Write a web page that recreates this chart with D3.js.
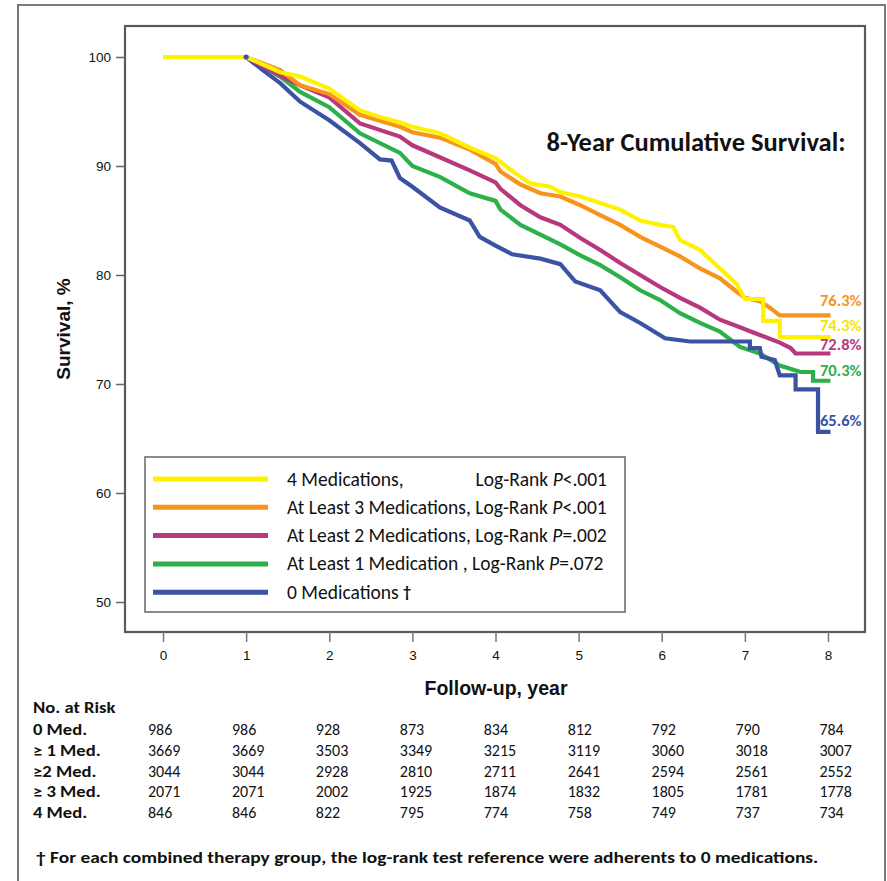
<!DOCTYPE html>
<html>
<head>
<meta charset="utf-8">
<script src="https://cdn.jsdelivr.net/npm/d3@7"></script>
<style>
  html, body { margin: 0; padding: 0; background: #fff; }
  svg { display: block; }
</style>
</head>
<body>
<svg id="chart" width="887" height="881"></svg>
<script>
// ---------- DATA ----------
const xTicks = [0, 1, 2, 3, 4, 5, 6, 7, 8];
const yTicks = [50, 60, 70, 80, 90, 100];

const seriesNames = ["0 Medications", "At Least 1 Medication", "At Least 2 Medications", "At Least 3 Medications", "4 Medications"];
const seriesColors = ["#3A53A4", "#2BB04A", "#B8387E", "#F7941D", "#FFF200"];
const labelColors  = ["#3A53A4", "#2BB04A", "#B8387E", "#F7941D", "#F2E600"];

// [year, survival %]
const med0 = [[0,100],[1,100],[1.2,98.8],[1.41,97.6],[1.65,95.9],[2.0,94.2],[2.37,92.1],[2.61,90.6],[2.75,90.5],[2.85,88.9],[3.0,88.1],[3.33,86.2],[3.69,85.0],[3.81,83.5],[4.0,82.7],[4.2,81.9],[4.54,81.5],[4.78,81.0],[4.96,79.4],[5.26,78.6],[5.5,76.6],[5.74,75.6],[6.04,74.2],[6.34,73.9],[7.06,73.9],[7.06,73.3],[7.18,73.3],[7.2,72.5],[7.36,72.2],[7.42,70.8],[7.61,70.8],[7.61,69.5],[7.88,69.5],[7.88,65.6],[8.03,65.6]];
const med1 = [[0,100],[1,100],[1.41,98.2],[1.65,96.8],[2.0,95.4],[2.37,93.0],[2.85,91.2],[3.0,90.0],[3.33,89.0],[3.69,87.5],[4.0,86.8],[4.06,86.0],[4.3,84.6],[4.54,83.7],[4.78,82.8],[5.02,81.8],[5.26,80.9],[5.5,79.8],[5.74,78.6],[5.98,77.7],[6.22,76.5],[6.46,75.6],[6.7,74.8],[6.94,73.4],[7.18,72.8],[7.42,71.7],[7.67,71.1],[7.82,71.1],[7.82,70.3],[8.03,70.3]];
const med2 = [[0,100],[1,100],[1.41,98.3],[1.65,97.4],[2.0,96.3],[2.37,93.9],[2.85,92.7],[3.0,91.9],[3.33,90.8],[3.69,89.6],[4.0,88.5],[4.06,87.9],[4.3,86.4],[4.54,85.3],[4.78,84.6],[5.02,83.4],[5.26,82.3],[5.5,81.1],[5.74,80.0],[5.98,78.9],[6.22,77.9],[6.46,77.0],[6.7,75.9],[6.94,75.2],[7.18,74.5],[7.42,73.8],[7.55,73.3],[7.61,72.8],[8.03,72.8]];
const med3 = [[0,100],[1,100],[1.41,98.8],[1.65,97.4],[2.0,96.6],[2.37,94.7],[2.85,93.6],[3.0,93.1],[3.33,92.6],[3.69,91.5],[4.0,90.2],[4.06,89.5],[4.3,88.3],[4.54,87.5],[4.78,87.2],[5.02,86.4],[5.26,85.5],[5.5,84.6],[5.74,83.5],[5.98,82.6],[6.22,81.7],[6.46,80.6],[6.7,79.7],[6.88,78.6],[7.0,77.9],[7.18,77.6],[7.3,77.0],[7.42,76.3],[8.03,76.3]];
const med4 = [[0,100],[1,100],[1.41,98.6],[1.65,98.2],[2.0,97.1],[2.37,95.1],[2.61,94.5],[2.85,94.0],[3.0,93.6],[3.33,93.0],[3.69,91.7],[4.0,90.7],[4.3,89.0],[4.42,88.4],[4.66,88.1],[4.78,87.6],[5.02,87.2],[5.26,86.6],[5.5,86.0],[5.74,85.0],[5.98,84.6],[6.14,84.4],[6.22,83.2],[6.46,82.3],[6.7,80.6],[6.9,79.2],[7.0,77.8],[7.22,77.8],[7.22,75.8],[7.42,75.8],[7.42,74.3],[8.03,74.3]];
const seriesData = [med0, med1, med2, med3, med4];

const finalLabels = ["65.6%", "70.3%", "72.8%", "76.3%", "74.3%"];

const legendLeft  = ["0 Medications \u2020", "At Least 1 Medication , Log-Rank ", "At Least 2 Medications, Log-Rank ", "At Least 3 Medications, Log-Rank ", "4 Medications,"];
const legendP     = ["", "=.072", "=.002", "<.001", "<.001"];

const riskRowLabels = ["0 Med.", "\u2265 1 Med.", "\u22652 Med.", "\u2265 3 Med.", "4 Med."];
const risk0 = [986, 986, 928, 873, 834, 812, 792, 790, 784];
const risk1 = [3669, 3669, 3503, 3349, 3215, 3119, 3060, 3018, 3007];
const risk2 = [3044, 3044, 2928, 2810, 2711, 2641, 2594, 2561, 2552];
const risk3 = [2071, 2071, 2002, 1925, 1874, 1832, 1805, 1781, 1778];
const risk4 = [846, 846, 822, 795, 774, 758, 749, 737, 734];
const riskRows = [risk0, risk1, risk2, risk3, risk4];

// ---------- LAYOUT ----------
const svg = d3.select("#chart");
const frame = {x0: 125, y0: 26, x1: 865, y1: 632};
const x = d3.scaleLinear().domain([0, 8]).range([163, 828]);
const y = d3.scaleLinear().domain([50, 100]).range([602, 57]);
const calibri = "Carlito, Lato, 'Open Sans', sans-serif";
const arial = "'Liberation Sans', Arial, Helvetica, sans-serif";

// helper: horizontally stretched text
function wideText(px, py, sx) {
  return svg.append("g").attr("transform", `translate(${px},${py}) scale(${sx},1)`)
    .append("text").attr("x", 0).attr("y", 0);
}

// outer border
svg.append("rect").attr("x", 18).attr("y", 5).attr("width", 867).attr("height", 900)
  .attr("fill", "none").attr("stroke", "#7a7a7a").attr("stroke-width", 2);

// plot frame
svg.append("rect").attr("x", frame.x0).attr("y", frame.y0)
  .attr("width", frame.x1 - frame.x0).attr("height", frame.y1 - frame.y0)
  .attr("fill", "#fff").attr("stroke", "#5a5a5a").attr("stroke-width", 2.2);

// y axis
const yAxis = svg.append("g").attr("transform", `translate(${frame.x0},0)`)
  .call(d3.axisLeft(y).tickValues(yTicks).tickSize(9).tickPadding(5).tickFormat(d3.format("d")));
yAxis.select(".domain").remove();
yAxis.selectAll("line").attr("stroke", "#666").attr("stroke-width", 1.5);
yAxis.selectAll("text").attr("font-family", arial).attr("font-size", 13.5).attr("fill", "#111");

// x axis
const xAxis = svg.append("g").attr("transform", `translate(0,${frame.y1})`)
  .call(d3.axisBottom(x).tickValues(xTicks).tickSize(10).tickPadding(8).tickFormat(d3.format("d")));
xAxis.select(".domain").remove();
xAxis.selectAll("line").attr("stroke", "#777").attr("stroke-width", 1.5);
xAxis.selectAll("text").attr("font-family", arial).attr("font-size", 13.5).attr("fill", "#111");

// axis titles
svg.append("text").attr("transform", "translate(70,329) rotate(-90)")
  .attr("text-anchor", "middle").attr("font-family", arial).attr("font-weight", "bold")
  .attr("font-size", 19).attr("fill", "#111").text("Survival, %");
svg.append("text").attr("x", 496).attr("y", 695)
  .attr("text-anchor", "middle").attr("font-family", arial).attr("font-weight", "bold")
  .attr("font-size", 19.5).attr("fill", "#111").text("Follow-up, year");

// curves
const line = d3.line().x(d => x(d[0])).y(d => y(d[1])).curve(d3.curveLinear);
const drawOrder = [1, 0, 2, 3, 4];
drawOrder.forEach(i => {
  svg.append("path").datum(seriesData[i])
    .attr("fill", "none").attr("stroke", seriesColors[i])
    .attr("stroke-width", 4.2).attr("stroke-linejoin", "miter")
    .attr("d", line);
});
svg.append("circle").attr("cx", x(1)).attr("cy", y(100)).attr("r", 2.6).attr("fill", seriesColors[0]);

// title
svg.append("text").attr("x", 696).attr("y", 151).attr("text-anchor", "middle")
  .attr("font-family", calibri).attr("font-weight", "bold").attr("font-size", 26.5)
  .attr("fill", "#111").text("8-Year Cumulative Survival:");

// end labels
const endDy = [-6, -5, -3.5, -9, -6];
seriesData.forEach((s, i) => {
  const last = s[s.length - 1];
  svg.append("text").attr("x", 820).attr("y", y(last[1]) + endDy[i])
    .attr("font-family", calibri).attr("font-weight", "bold").attr("font-size", 16.5)
    .attr("fill", labelColors[i]).text(finalLabels[i]);
});

// legend
svg.append("rect").attr("x", 145).attr("y", 457).attr("width", 480).attr("height", 155)
  .attr("fill", "#fff").attr("stroke", "#666").attr("stroke-width", 1.5);
const legendOrder = [4, 3, 2, 1, 0];
const legFont = 19.5;
legendOrder.forEach((si, r) => {
  const cy = 479 + r * 28.3;
  svg.append("line").attr("x1", 153).attr("x2", 268).attr("y1", cy).attr("y2", cy)
    .attr("stroke", seriesColors[si]).attr("stroke-width", 5);
  const t = svg.append("text").attr("x", 287).attr("y", cy + 6.5)
    .attr("font-family", calibri).attr("font-size", legFont).attr("fill", "#111");
  if (si === 4) {
    t.text(legendLeft[si]);
    const t2 = svg.append("text").attr("x", 607).attr("y", cy + 6.5).attr("text-anchor", "end")
      .attr("font-family", calibri).attr("font-size", legFont).attr("fill", "#111");
    t2.append("tspan").text("Log-Rank ");
    t2.append("tspan").attr("font-style", "italic").text("P");
    t2.append("tspan").text(legendP[si]);
  } else if (si === 0) {
    t.append("tspan").text("0 Medications ");
    t.append("tspan").attr("font-weight", "bold").attr("font-size", 16).attr("dy", -2).text("\u2020");
  } else {
    t.append("tspan").text(legendLeft[si]);
    t.append("tspan").attr("font-style", "italic").text("P");
    t.append("tspan").text(legendP[si]);
  }
});

// risk table
wideText(33, 713, 1.2).attr("font-family", calibri).attr("font-weight", "bold")
  .attr("font-size", 15.5).attr("fill", "#111").text("No. at Risk");
riskRows.forEach((row, r) => {
  const by = 735 + r * 20.8;
  wideText(33, by, 1.2).attr("font-family", calibri).attr("font-weight", "bold")
    .attr("font-size", 15.5).attr("fill", "#111").text(riskRowLabels[r]);
  row.forEach((v, c) => {
    svg.append("text").attr("x", x(xTicks[c]) - 15 + c * 0.8).attr("y", by)
      .attr("font-family", calibri).attr("font-size", 16).attr("fill", "#111").text(v);
  });
});

// footnote
wideText(36, 863, 1.2).attr("font-family", calibri).attr("font-weight", "bold")
  .attr("font-size", 16.2).attr("fill", "#111")
  .text("\u2020 For each combined therapy group, the log-rank test reference were adherents to 0 medications.");
</script>
</body>
</html>
